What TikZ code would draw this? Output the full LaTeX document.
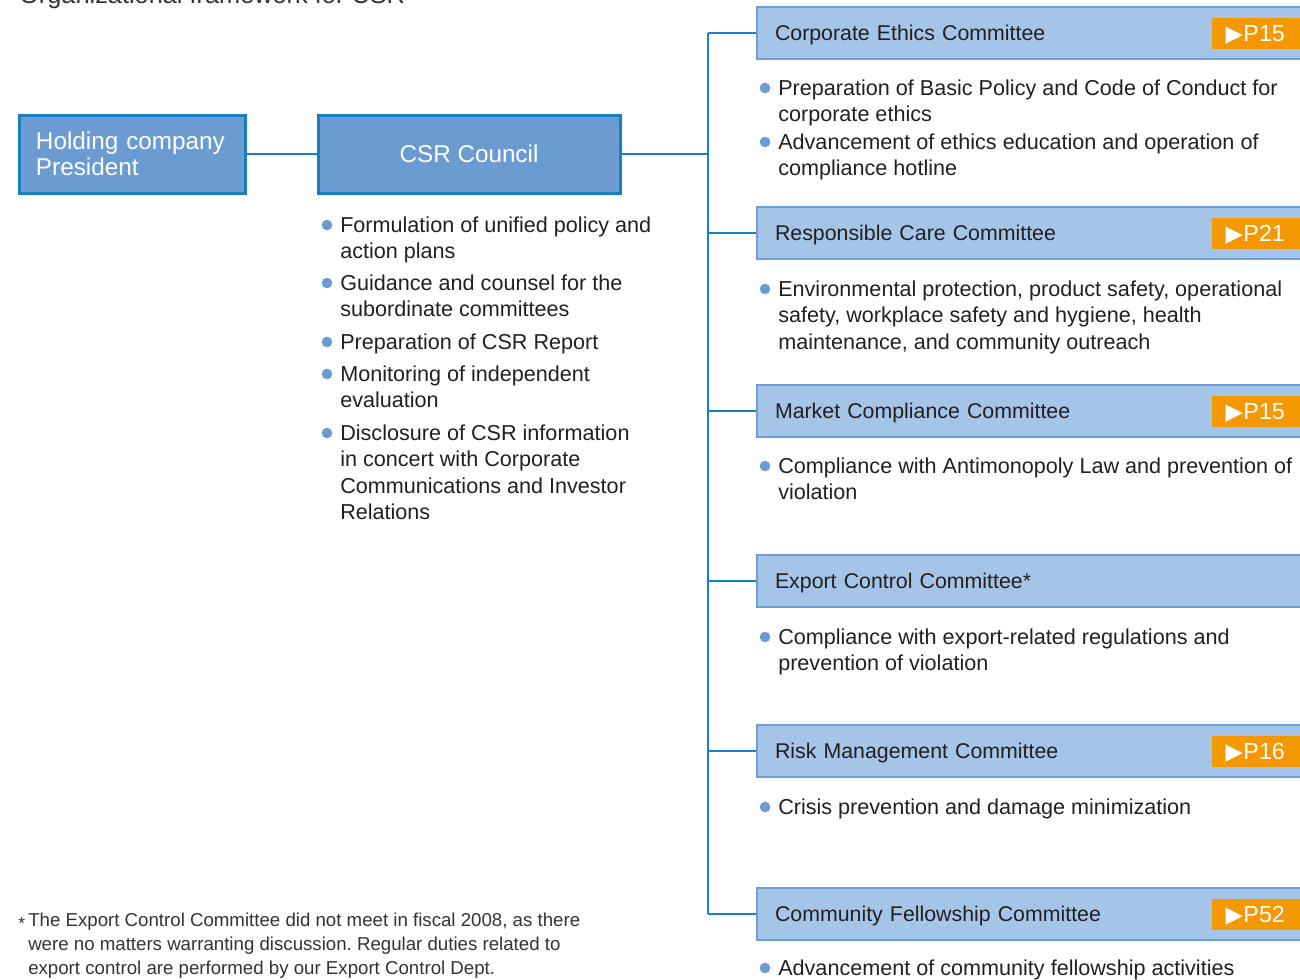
\documentclass[tikz,border=0pt]{standalone}
\usepackage{fontspec}
\setmainfont{Liberation Sans}
\newfontfamily\symfont{DejaVu Sans}
\definecolor{topfill}{HTML}{6B9BD1}
\definecolor{topedge}{HTML}{1A7FC1}
\definecolor{comfill}{HTML}{A4C5E8}
\definecolor{comedge}{HTML}{6E9FD4}
\definecolor{badge}{HTML}{F39800}
\definecolor{linkc}{HTML}{1B7FC4}
\definecolor{dotc}{HTML}{6B9BD1}
\definecolor{ink}{HTML}{231F20}
\definecolor{noteink}{HTML}{333333}
\frenchspacing
\tikzset{
  topbox/.style={draw=topedge, line width=2.25pt, fill=topfill, text=white,
    minimum height=58.5pt, font=\fontsize{18.2}{19.5}\selectfont},
  combox/.style={draw=comedge, line width=1.6pt, fill=comfill, text=ink,
    minimum width=414.75pt, minimum height=39pt, text width=387.75pt,
    text height=11.5pt, text depth=0pt,
    inner xsep=13.5pt, align=left, font=\fontsize{16}{18}\selectfont},
  pagetag/.style={fill=badge, text=white, anchor=west, minimum width=75pt,
    minimum height=23.25pt, text width=70pt, inner xsep=10pt, align=left,
    text height=12.5pt, text depth=0pt,
    font=\fontsize{17.5}{18}\selectfont},
  link/.style={draw=linkc, line width=1.6pt},
  item/.style={anchor=base west, inner sep=0pt, text=ink,
    font=\fontsize{16.2}{19.9}\selectfont},
  dot/.style={fill=dotc}
}
\newcommand{\tagtext}[1]{\raisebox{-0.3pt}{\symfont\fontsize{17}{17}\selectfont ▶}\kern0.3pt#1}
\begin{document}
\begin{tikzpicture}[x=0.75pt,y=-0.75pt]
\useasboundingbox (0,0) rectangle (1300,979);

% heading, partly cut by the page edge
\node[anchor=base west, inner sep=0pt, text=noteink,
  font=\fontsize{19}{20}\selectfont] (title) at (19,3) {Organizational framework for CSR};

% top of the hierarchy
\node[topbox, minimum width=169.5pt, text width=144pt, align=left] (pres) at (132,154)
  {Holding company\\President};
\node[topbox, minimum width=226.5pt, text height=13pt, text depth=0pt] (csr) at (469,154) {CSR Council};
\draw[link] (pres.east) -- (csr.west);

% committees
\node[combox] (ce) at (1033.5,33) {Corporate Ethics Committee};
\node[combox] (rc) at (1033.5,233) {Responsible Care Committee};
\node[combox] (mc) at (1033.5,411) {Market Compliance Committee};
\node[combox] (ec) at (1033.5,581) {Export Control Committee*};
\node[combox] (rm) at (1033.5,751) {Risk Management Committee};
\node[combox] (cf) at (1033.5,914) {Community Fellowship Committee};

\node[pagetag] (tce) at (1212,33) {\tagtext{P15}};
\node[pagetag] (trc) at (1212,233) {\tagtext{P21}};
\node[pagetag] (tmc) at (1212,411) {\tagtext{P15}};
\node[pagetag] (trm) at (1212,751) {\tagtext{P16}};
\node[pagetag] (tcf) at (1212,914) {\tagtext{P52}};

% trunk and branches
\coordinate (j0) at (708,154);
\coordinate (j1) at (708,33);
\coordinate (j2) at (708,233);
\coordinate (j3) at (708,411);
\coordinate (j4) at (708,581);
\coordinate (j5) at (708,751);
\coordinate (j6) at (708,914);
\draw[link] (csr.east) -- (j0);
\draw[link] (j1) -- (j6);
\foreach \j/\c in {j1/ce,j2/rc,j3/mc,j4/ec,j5/rm,j6/cf}
  \draw[link] (\j) -- (\c.west);

% duties of the council
\node[item] (s1) at (340,232) {\parbox[t]{260pt}{Formulation of unified policy and\\action plans}};
\node[item] (s2) at (340,290) {\parbox[t]{260pt}{Guidance and counsel for the\\subordinate committees}};
\node[item] (s3) at (340,349) {\parbox[t]{260pt}{Preparation of CSR Report}};
\node[item] (s4) at (340,381) {\parbox[t]{260pt}{Monitoring of independent\\evaluation}};
\node[item] (s5) at (340,440) {\parbox[t]{260pt}{Disclosure of CSR information\\in concert with Corporate\\Communications and Investor\\Relations}};

% duties of the committees
\node[item] (c1) at (778,95) {\parbox[t]{400pt}{Preparation of Basic Policy and Code of Conduct for\\corporate ethics}};
\node[item] (c2) at (778,149) {\parbox[t]{400pt}{Advancement of ethics education and operation of\\compliance hotline}};
\node[item] (c3) at (778,296) {\parbox[t]{400pt}{Environmental protection, product safety, operational\\safety, workplace safety and hygiene, health\\maintenance, and community outreach}};
\node[item] (c4) at (778,473) {\parbox[t]{400pt}{Compliance with Antimonopoly Law and prevention of\\violation}};
\node[item] (c5) at (778,644) {\parbox[t]{400pt}{Compliance with export-related regulations and\\prevention of violation}};
\node[item] (c6) at (778,814) {\parbox[t]{400pt}{Crisis prevention and damage minimization}};
\node[item] (c7) at (778,975) {\parbox[t]{400pt}{Advancement of community fellowship activities}};

\foreach \n in {s1,s2,s3,s4,s5,c1,c2,c3,c4,c5,c6,c7}
  \fill[dot] (\n.base west) ++(-13,-7) circle (5.3);

% footnote
\node[anchor=base west, inner sep=0pt, text=noteink,
  font=\fontsize{13}{14}\selectfont] (star) at (18,929) {*};
\node[anchor=base west, inner sep=0pt, text=noteink,
  font=\fontsize{14}{18}\selectfont] (note) at (28,926)
  {\parbox[t]{440pt}{The Export Control Committee did not meet in fiscal 2008, as there\\were no matters warranting discussion. Regular duties related to\\export control are performed by our Export Control Dept.}};
\end{tikzpicture}
\end{document}
